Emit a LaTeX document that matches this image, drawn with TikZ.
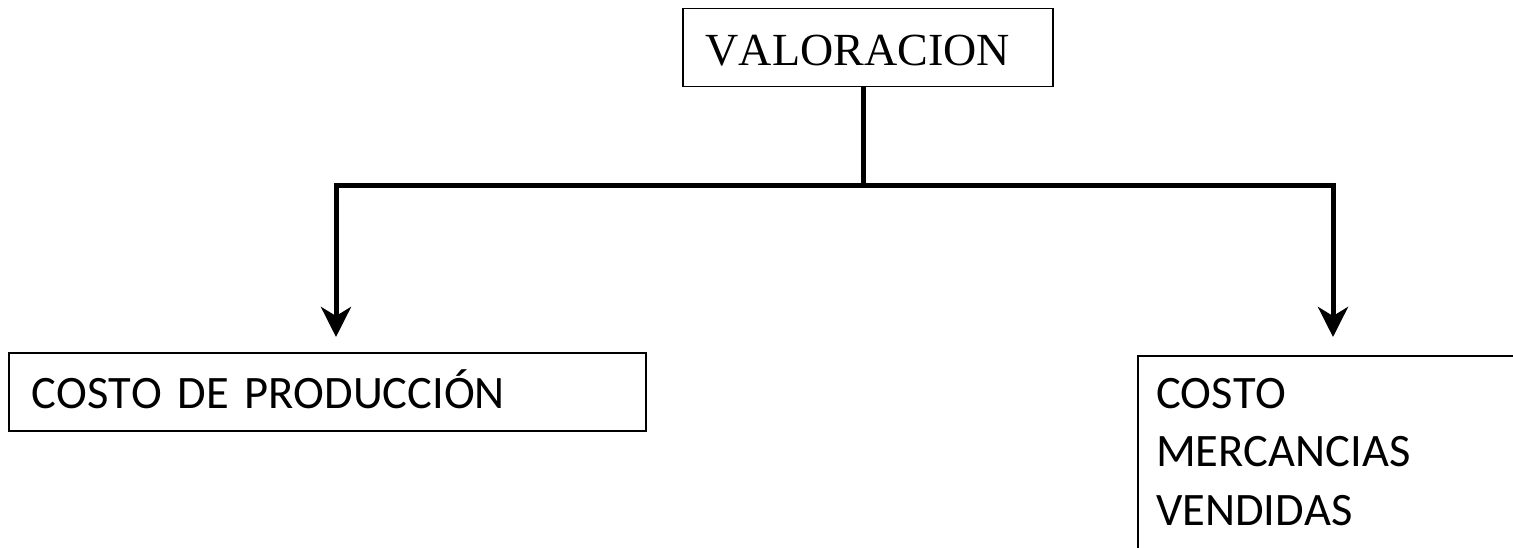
\documentclass[tikz,border=0pt]{standalone}
\usepackage{fontspec}
\setmainfont{Liberation Serif}[Kerning=Off]
\newfontfamily\calib{Carlito}[Kerning=Off]
\usetikzlibrary{arrows.meta}
\tikzset{
  box/.style={draw, line width=1.5pt, inner sep=0pt, anchor=north west, align=left},
  conn/.style={line width=5pt, line join=miter},
  arr/.style={conn, -{Stealth[length=30pt, width=30pt, inset=9pt]}}
}
\begin{document}
\begin{tikzpicture}[x=1pt, y=-1pt]
\useasboundingbox (0,0) rectangle (1513,548);
\clip (0,0) rectangle (1513,548);
\node[box, minimum width=370pt, minimum height=78pt, text width=324pt, text height=46pt, text depth=10pt, font=\fontsize{46pt}{55pt}\selectfont] (top) at (682,8) {VALORACION};
\node[box, minimum width=637pt, minimum height=78pt, text width=591pt, text height=44pt, text depth=10pt, font=\calib\fontsize{46.5pt}{55pt}\selectfont] (left) at (8,352) {COSTO DE PRODUCCIÓN};
\node[box, minimum width=420pt, minimum height=230pt] (right) at (1137,355) {};
\node[anchor=north west, inner sep=0pt, align=left, font=\calib\fontsize{46.5pt}{58.5pt}\selectfont] (rtext) at (1156,378) {COSTO\\MERCANCIAS\\VENDIDAS};
\coordinate (j) at (863,186);
\coordinate (tipL) at (336,337);
\coordinate (tipR) at (1333,337);
\draw[conn] (j |- top.south) -- (j);
\draw[arr] (j) -| (tipL);
\draw[arr] (j) -| (tipR);
\end{tikzpicture}
\end{document}
